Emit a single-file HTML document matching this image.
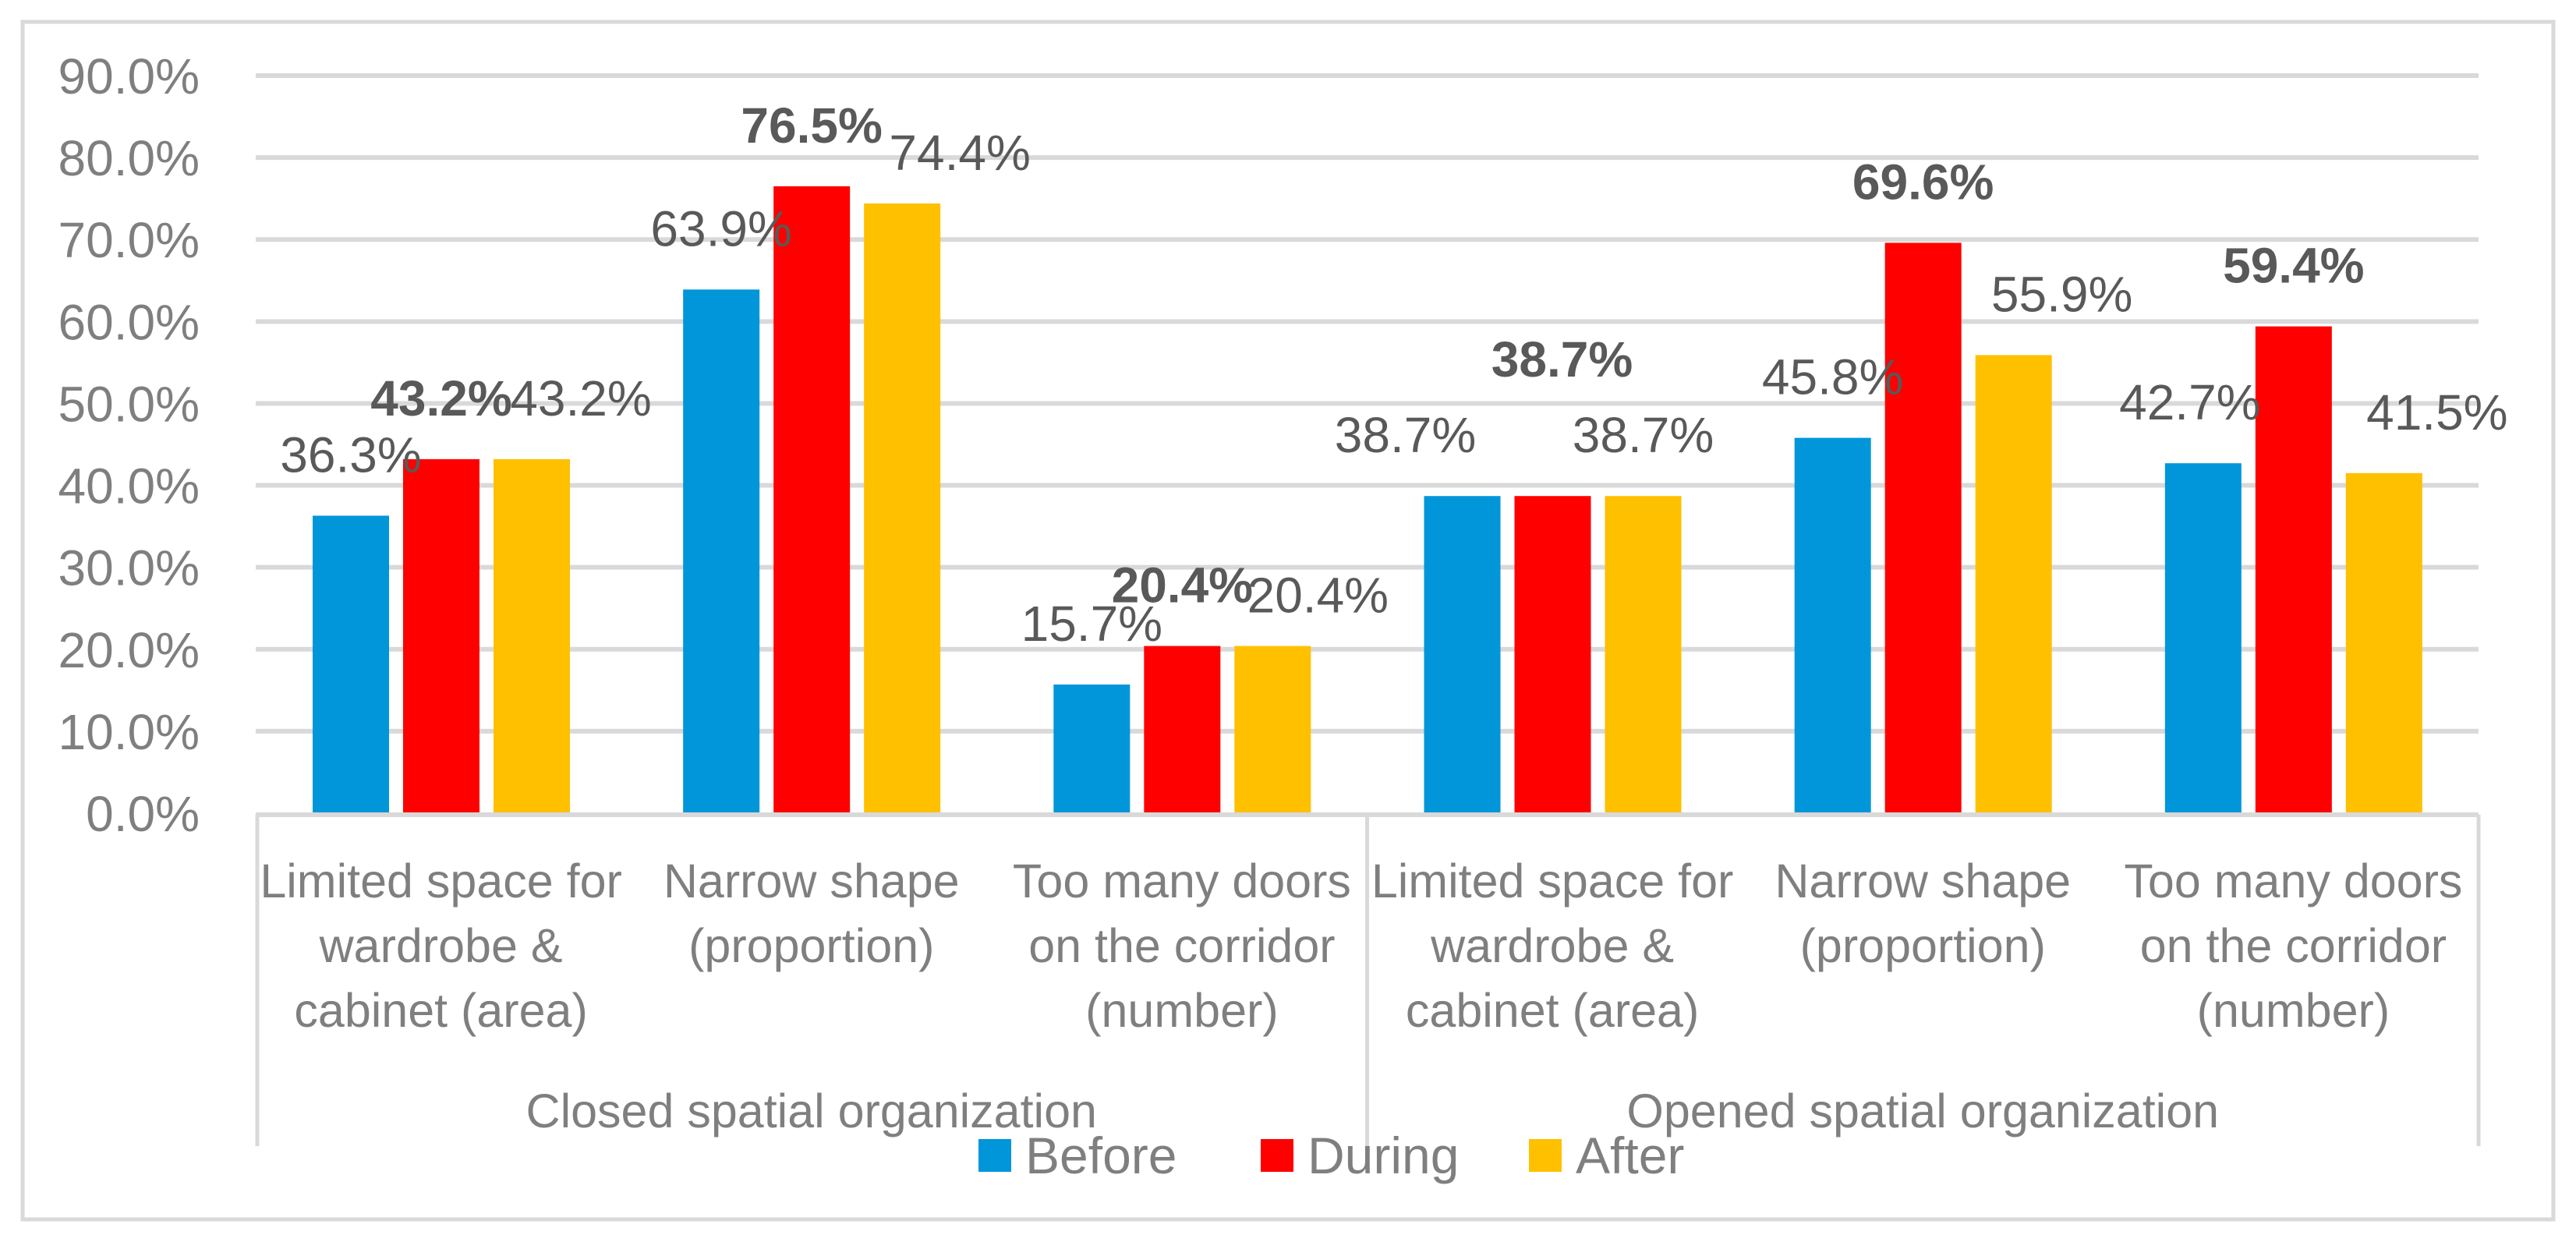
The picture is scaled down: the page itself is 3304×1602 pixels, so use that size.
<!DOCTYPE html>
<html><head><meta charset="utf-8"><style>
html,body{margin:0;padding:0;background:#fff;}
svg{display:block;font-family:"Liberation Sans",sans-serif;}
</style></head><body>
<svg id="chart" width="3304" height="1602" viewBox="0 0 3304 1602" xmlns="http://www.w3.org/2000/svg">
<rect x="29" y="28" width="3246" height="1536" fill="#fff" stroke="#d9d9d9" stroke-width="5"/>
<g id="grid"></g>
<g id="yticks"></g>
<g id="bars"></g>
<g id="labels"></g>
<g id="xaxis"></g>
<g id="legend"></g>
</svg>
<script>
const categories = [
  ["Limited space for","wardrobe &","cabinet (area)"],
  ["Narrow shape","(proportion)"],
  ["Too many doors","on the corridor","(number)"],
  ["Limited space for","wardrobe &","cabinet (area)"],
  ["Narrow shape","(proportion)"],
  ["Too many doors","on the corridor","(number)"]
];
const groups = ["Closed spatial organization","Opened spatial organization"];
const seriesNames = ["Before","During","After"];
const before = [36.3, 63.9, 15.7, 38.7, 45.8, 42.7];
const during = [43.2, 76.5, 20.4, 38.7, 69.6, 59.4];
const after  = [43.2, 74.4, 20.4, 38.7, 55.9, 41.5];
const yTicks = [0,10,20,30,40,50,60,70,80,90];
const colors = ["#0096d9","#ff0000","#ffc000"];
// label nudges (style only)
const labelDx = [[0,0,63],[0,0,74],[0,0,58],[-73,12,0],[0,0,62],[-17,0,68]];
const labelDy = [[0,0,0],[0,0,13],[0,0,13],[0,-97,0],[0,0,0],[0,0,0]];

const NS="http://www.w3.org/2000/svg";
const plotL=328, plotR=3179, y0=1043, yMax=90, yTop=97;
const catW=(plotR-plotL)/categories.length;
const barW=98, gap=18, off=73;
function yScale(v){return y0-(v/yMax)*(y0-yTop);}
function xBand(i){return plotL+i*catW;}
function mk(tag,attrs,parent){const e=document.createElementNS(NS,tag);for(const k in attrs)e.setAttribute(k,attrs[k]);parent.appendChild(e);return e;}
const grid=document.getElementById('grid'), yt=document.getElementById('yticks');
yTicks.forEach(t=>{
  const y=yScale(t);
  if(t>0){const l=mk('line',{x1:plotL,x2:plotR,y1:y,y2:y,stroke:'#d9d9d9','stroke-width':6},grid);
  
  }
  const tx=mk('text',{x:256,y:y+23,'text-anchor':'end','font-size':64,fill:'#7f7f7f'},yt);
  tx.textContent=t.toFixed(1)+'%';
  
  
});
const series=[before,during,after];
const bars=document.getElementById('bars'), labels=document.getElementById('labels');
series.forEach((vals,s)=>{
  vals.forEach((v,i)=>{
    const x=xBand(i)+off+s*(barW+gap);
    const y=yScale(v);
    const r=mk('rect',{x:x,y:y,width:barW,height:y0-y,fill:colors[s]},bars);
    
    
    const t=mk('text',{x:x+barW/2+labelDx[i][s],y:y-56+labelDy[i][s],'text-anchor':'middle','font-size':64,fill:'#595959','font-weight':s===1?'bold':'normal'},labels);
    t.textContent=v.toFixed(1)+'%';
    
    
  });
});
const xa=document.getElementById('xaxis');
const ax=mk('line',{x1:plotL,x2:plotR,y1:1045,y2:1045,stroke:'#d9d9d9','stroke-width':6},xa);


[plotL+2,xBand(3),plotR].forEach((x,k)=>{
  const l=mk('line',{x1:x,x2:x,y1:1045,y2:1470,stroke:'#d9d9d9','stroke-width':5},xa);
  
  
});
categories.forEach((lines,i)=>{
  const cx=xBand(i)+catW/2;
  lines.forEach((ln,j)=>{
    const t=mk('text',{x:cx,y:1151+j*83,'text-anchor':'middle','font-size':61,fill:'#7f7f7f'},xa);
    t.textContent=ln;
    
    
  });
});
groups.forEach((g,k)=>{
  const cx=xBand(k*3)+catW*1.5;
  const t=mk('text',{x:cx,y:1446,'text-anchor':'middle','font-size':61,fill:'#7f7f7f'},xa);
  t.textContent=g;
  
  
});
const lg=document.getElementById('legend');
const legX=[1255,1617,1961];
seriesNames.forEach((n,s)=>{
  const r=mk('rect',{x:legX[s],y:1461,width:42,height:42,fill:colors[s]},lg);
  
  
  const t=mk('text',{x:legX[s]+60,y:1505,'font-size':66,fill:'#7f7f7f'},lg);
  t.textContent=n;
  
  
});
</script>
</body></html>
